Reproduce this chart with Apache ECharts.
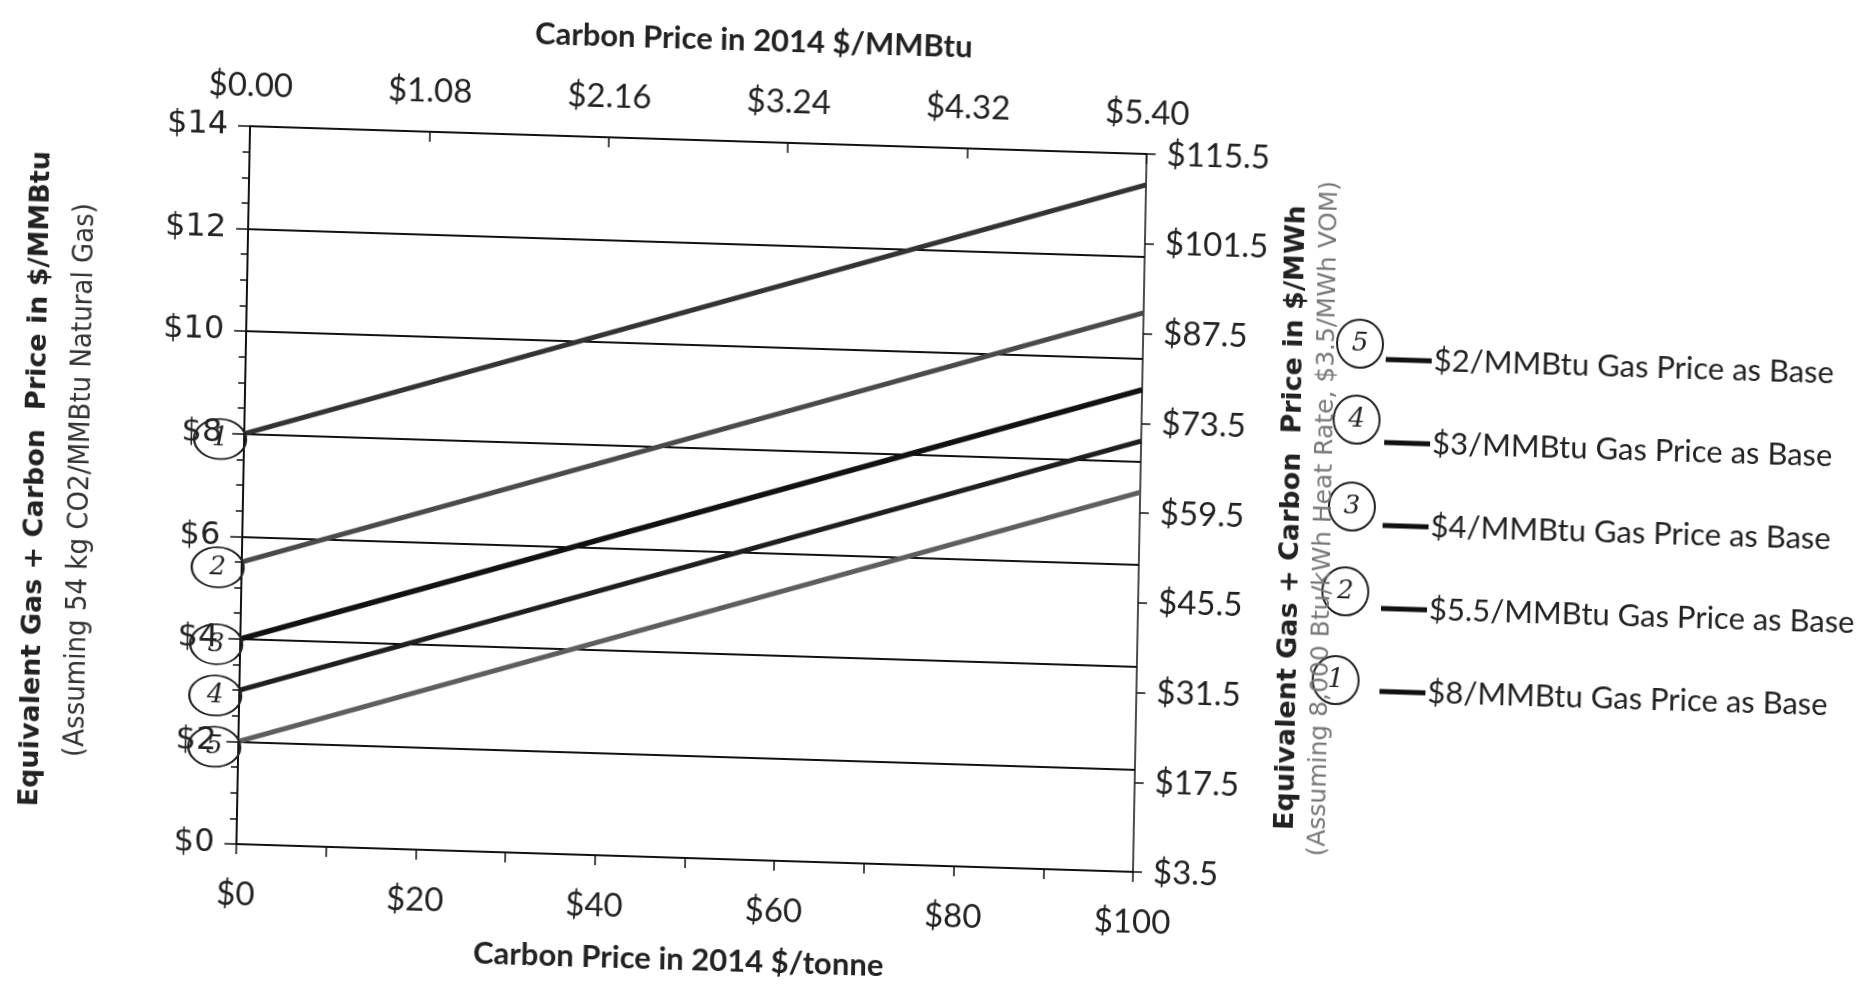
<!DOCTYPE html>
<html>
<head>
<meta charset="utf-8">
<script src="https://cdn.jsdelivr.net/npm/echarts@6/dist/echarts.min.js"></script>
<style>
  html, body { margin: 0; padding: 0; background: #ffffff; overflow: hidden; }
  #main {
    width: 1871px; height: 989px; background: #ffffff;
    transform-origin: 691px 499px;
    transform: matrix(0.9995, 0.031, -0.019, 0.9998, 0, 0);
  }
</style>
</head>
<body>
<div id="main"></div>
<script>
// ---- data ----
const carbonPriceTonne = [0, 100];            // $/tonne (bottom axis)
const gasBase2   = [2, 7.4];                  // $/MMBtu
const gasBase3   = [3, 8.4];
const gasBase4   = [4, 9.4];
const gasBase55  = [5.5, 10.9];
const gasBase8   = [8, 13.4];
const seriesNames = [
  '$2/MMBtu Gas Price as Base',
  '$3/MMBtu Gas Price as Base',
  '$4/MMBtu Gas Price as Base',
  '$5.5/MMBtu Gas Price as Base',
  '$8/MMBtu Gas Price as Base'
];
const handNumbers = ['5', '4', '3', '2', '1'];   // handwritten circled numbers

// ---- styles ----
const CAL = 'Lato, "DejaVu Sans Condensed", sans-serif';
const VERD = '"DejaVu Sans", sans-serif';
const lineColors = ['#5e5e5e', '#1e1e1e', '#111111', '#4a4a4a', '#333333'];
const lineWidths = [5, 5, 5.5, 5, 5];
const allData = [gasBase2, gasBase3, gasBase4, gasBase55, gasBase8];

const chart = echarts.init(document.getElementById('main'), null, { renderer: 'canvas' });

const series = allData.map((vals, i) => ({
  name: seriesNames[i],
  type: 'line',
  xAxisIndex: 0,
  yAxisIndex: 0,
  symbol: 'none',
  clip: false,
  data: carbonPriceTonne.map((x, j) => [x, vals[j]]),
  lineStyle: { color: lineColors[i], width: lineWidths[i] },
  itemStyle: { color: lineColors[i] },
  z: 3,
  markPoint: {
    symbol: 'circle',
    symbolSize: [52, 40],
    symbolOffset: [-24, 6],
    silent: true,
    itemStyle: { color: 'rgba(0,0,0,0)', borderColor: '#222', borderWidth: 2 },
    label: {
      show: true, formatter: '{b}', color: '#222',
      fontFamily: '"DejaVu Serif", serif', fontStyle: 'italic', fontSize: 26
    },
    data: [{ name: handNumbers[i], coord: [carbonPriceTonne[0], vals[0]] }]
  }
}));

const legendCircles = [[1357, 323], [1355, 399], [1352, 486], [1347, 571], [1339, 660]];
const graphics = [];
legendCircles.forEach((c, i) => {
  graphics.push({
    type: 'ellipse', shape: { cx: c[0], cy: c[1], rx: 23, ry: 24 },
    style: { fill: 'none', stroke: '#222', lineWidth: 2 }, silent: true
  });
  graphics.push({
    type: 'text', x: c[0], y: c[1],
    style: { text: handNumbers[i], align: 'center', verticalAlign: 'middle',
             font: 'italic 26px "DejaVu Serif", serif', fill: '#222' }, silent: true
  });
});

const option = {
  backgroundColor: '#ffffff',
  animation: false,
  title: [
    { text: 'Carbon Price in 2014 $/MMBtu', left: 740, top: 34, textAlign: 'center', textVerticalAlign: 'middle',
      textStyle: { fontFamily: CAL, fontWeight: 'bold', fontSize: 31, color: '#222' } },
    { text: 'Carbon Price in 2014 $/tonne', left: 682, top: 955, textAlign: 'center', textVerticalAlign: 'middle',
      textStyle: { fontFamily: CAL, fontWeight: 'bold', fontSize: 31, color: '#222' } }
  ],
  grid: { left: 243, top: 140, width: 897, height: 718, containLabel: false },
  legend: {
    orient: 'vertical', left: 1378, top: 313, align: 'left',
    icon: 'rect', itemWidth: 46, itemHeight: 5, itemGap: 43,
    textStyle: { fontFamily: CAL, fontSize: 31, lineHeight: 40, color: '#222', padding: [0, 0, 0, -3] },
    data: seriesNames.map(n => ({ name: n, itemStyle: { color: '#111' } })),
    selectedMode: false
  },
  xAxis: [
    {
      type: 'value', position: 'bottom', min: 0, max: 100, interval: 20,
      axisLine: { show: true, onZero: false, lineStyle: { color: '#111', width: 2 } },
      axisTick: { show: true, inside: false, length: 10, lineStyle: { color: '#111', width: 1.5 } },
      minorTick: { show: true, splitNumber: 2, length: 10, lineStyle: { color: '#111', width: 1.5 } },
      axisLabel: { margin: 34, formatter: v => '$' + v, fontFamily: CAL, fontSize: 33, color: '#222' },
      splitLine: { show: false }
    },
    {
      type: 'value', position: 'top', min: 0, max: 5.4, interval: 1.08,
      axisLine: { show: true, onZero: false, lineStyle: { color: '#111', width: 2 } },
      axisTick: { show: true, inside: true, length: 10, lineStyle: { color: '#111', width: 1.5 } },
      axisLabel: { margin: 24, formatter: v => '$' + v.toFixed(2), fontFamily: CAL, fontSize: 33, color: '#222' },
      splitLine: { show: false }
    }
  ],
  yAxis: [
    {
      type: 'value', position: 'left', min: 0, max: 14, interval: 2,
      name: '{a|Equivalent Gas + Carbon  Price in $/MMBtu}\n{b|(Assuming 54 kg CO2/MMBtu Natural Gas)}',
      nameLocation: 'middle', nameRotate: 90, nameGap: 141,
      nameTextStyle: {
        rich: {
          a: { fontFamily: VERD, fontWeight: 'bold', fontSize: 27, lineHeight: 44, color: '#222' },
          b: { fontFamily: '"DejaVu Sans Condensed", "DejaVu Sans", sans-serif', fontSize: 29, lineHeight: 44, color: '#333' }
        }
      },
      axisLine: { show: true, onZero: false, lineStyle: { color: '#111', width: 2 } },
      axisTick: { show: true, inside: false, length: 12, lineStyle: { color: '#111', width: 1.5 } },
      minorTick: { show: true, splitNumber: 4, length: 7, lineStyle: { color: '#111', width: 1.5 } },
      axisLabel: { margin: 22, formatter: v => '$' + v, fontFamily: VERD, fontSize: 32, color: '#222' },
      splitLine: { show: true, lineStyle: { color: '#111', width: 2 } }
    },
    {
      type: 'value', position: 'right', min: 3.5, max: 115.5, interval: 14,
      name: '{a|Equivalent Gas + Carbon  Price in $/MWh}\n{b|(Assuming 8,000 Btu/kWh Heat Rate, $3.5/MWh VOM)}',
      nameLocation: 'middle', nameRotate: 90, nameGap: 136,
      nameTextStyle: {
        rich: {
          a: { fontFamily: VERD, fontWeight: 'bold', fontSize: 27, lineHeight: 32, color: '#222' },
          b: { fontFamily: VERD, fontSize: 25, lineHeight: 32, color: '#777' }
        }
      },
      axisLine: { show: true, onZero: false, lineStyle: { color: '#111', width: 1.5 } },
      axisTick: { show: true, inside: false, length: 9, lineStyle: { color: '#111', width: 1.5 } },
      axisLabel: { margin: 20, formatter: v => '$' + v.toFixed(1), fontFamily: CAL, fontSize: 33, color: '#222' },
      splitLine: { show: false }
    }
  ],
  graphic: graphics,
  series: series
};

chart.setOption(option);
</script>
</body>
</html>
